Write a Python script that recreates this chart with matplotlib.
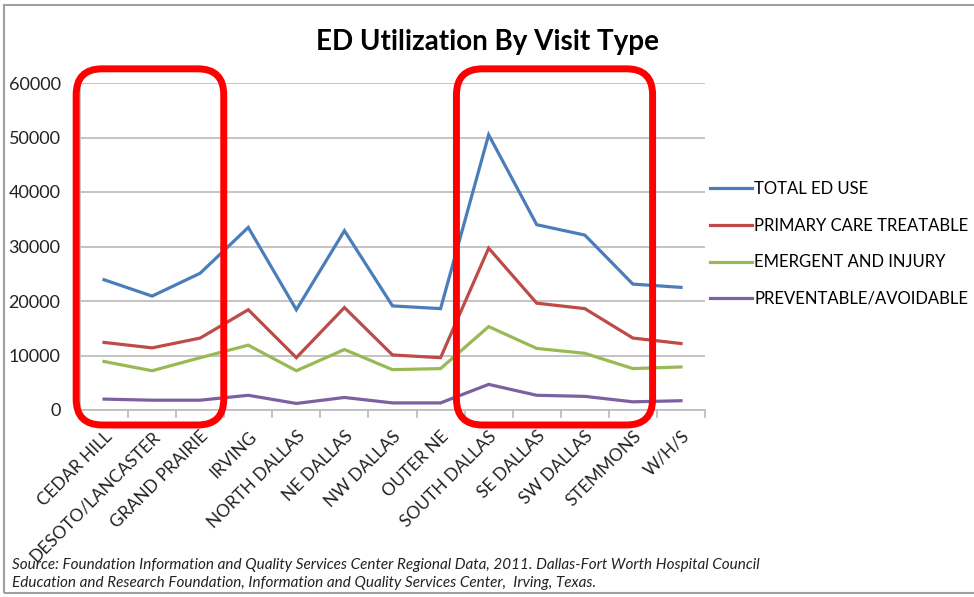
import numpy as np
import matplotlib
matplotlib.use("Agg")
import matplotlib.pyplot as plt
from matplotlib.patches import FancyBboxPatch, Rectangle
from matplotlib.transforms import IdentityTransform

# ---------------- data ----------------
areas = ["CEDAR HILL", "DESOTO/LANCASTER", "GRAND PRAIRIE", "IRVING",
         "NORTH DALLAS", "NE DALLAS", "NW DALLAS", "OUTER NE",
         "SOUTH DALLAS", "SE DALLAS", "SW DALLAS", "STEMMONS", "W/H/S"]

total_ed = [23900, 20900, 25100, 33500, 18400, 32900, 19100, 18600,
            50500, 34000, 32100, 23100, 22500]
primary_care = [12400, 11400, 13200, 18400, 9600, 18800, 10100, 9600,
                29700, 19600, 18600, 13200, 12200]
emergent = [8900, 7200, 9600, 11900, 7200, 11100, 7400, 7600,
            15300, 11300, 10400, 7600, 7900]
preventable = [2000, 1800, 1800, 2700, 1200, 2300, 1300, 1300,
               4700, 2700, 2500, 1500, 1700]

series_names = ["TOTAL ED USE", "PRIMARY CARE TREATABLE",
                "EMERGENT AND INJURY", "PREVENTABLE/AVOIDABLE"]
series_colors = ["#4A7EBB", "#BE4B48", "#98B954", "#7D60A0"]

# red highlight boxes, as (left, right) in category units
highlights = [(-0.58, 2.49), (7.33, 11.41)]

plt.rcParams["font.family"] = ["Lato", "DejaVu Sans"]

fig = plt.figure(figsize=(9.74, 5.97), dpi=100)
ax = fig.add_axes([80 / 974, 1 - 410 / 597, 625 / 974, 327 / 597])

x = np.arange(len(areas))
for vals, name, col in zip([total_ed, primary_care, emergent, preventable],
                           series_names, series_colors):
    ax.plot(x, vals, color=col, lw=2.3, label=name, solid_joinstyle="miter")

ax.set_xlim(-0.5, len(areas) - 0.5)
ax.set_ylim(0, 60000)
ax.set_yticks(np.arange(0, 60001, 10000))
ax.yaxis.grid(True, color="#BFBFBF", lw=1.3)
ax.set_axisbelow(True)

for s in ["top", "right"]:
    ax.spines[s].set_visible(False)
ax.spines["left"].set_color("#BFBFBF")
ax.spines["bottom"].set_color("#BFBFBF")
ax.spines["left"].set_linewidth(1.3)
ax.spines["bottom"].set_linewidth(1.3)

ax.set_xticks(x)
ax.set_xticklabels(areas, rotation=45, ha="right", rotation_mode="anchor",
                   fontsize=12.5, color="#222222")
ax.set_xticks(np.arange(-0.5, len(areas), 1), minor=True)
ax.tick_params(axis="x", which="major", length=0, pad=13)
ax.tick_params(axis="x", which="minor", length=6, width=1.3, color="#BFBFBF")
ax.tick_params(axis="y", length=0, pad=14, labelsize=13, labelcolor="#222222")

fig.text(0.5, 1 - 42 / 597, "ED Utilization By Visit Type", ha="center",
         va="center", fontsize=20, fontweight="bold")

ax.legend(loc="upper left", bbox_to_anchor=(710 / 974, 1 - 181 / 597),
          bbox_transform=fig.transFigure, frameon=False, fontsize=12,
          handlelength=2.5, handletextpad=0.15, labelspacing=1.24,
          borderaxespad=0, borderpad=0)

fig.text(12 / 974, 1 - 565 / 597,
         "Source: Foundation Information and Quality Services Center Regional Data, 2011. "
         "Dallas-Fort Worth Hospital Council",
         fontsize=11, style="italic", va="center", color="#222222")
fig.text(12 / 974, 1 - 583 / 597,
         "Education and Research Foundation, Information and Quality Services Center,  Irving, Texas.",
         fontsize=11, style="italic", va="center", color="#222222")

# outer frame of the slide image
fig.add_artist(Rectangle((4 / 974, 4 / 597), 1.1, 1 - 9 / 597,
                         transform=fig.transFigure, fill=False,
                         edgecolor="#A0A0A0", lw=1.5, clip_on=False))

# red rounded highlight boxes drawn in pixel space from data positions
for left, right in highlights:
    x0, y0 = ax.transData.transform((left, -2750))
    x1, y1 = ax.transData.transform((right, 62600))
    box = FancyBboxPatch((x0, y0), x1 - x0, y1 - y0,
                         boxstyle="round,pad=0,rounding_size=26",
                         transform=IdentityTransform(), fill=False,
                         edgecolor="#FF0000", lw=5, clip_on=False)
    fig.add_artist(box)

fig.savefig("out.png", dpi=100)
